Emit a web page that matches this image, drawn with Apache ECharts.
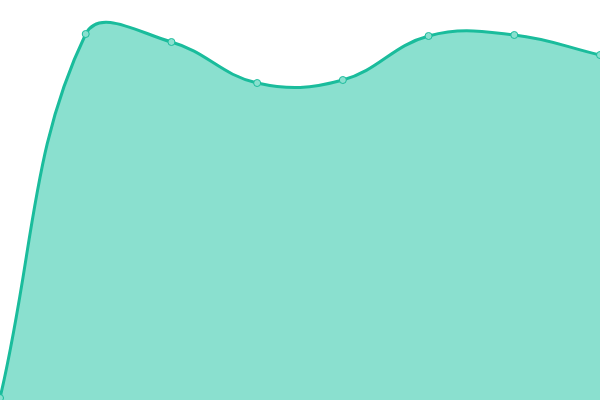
<!DOCTYPE html>
<html>
<head>
    <meta charset="utf-8">
    <title>Area</title>
    <script src="https://cdn.jsdelivr.net/npm/echarts@6/dist/echarts.min.js"></script>
    <style>
        body, html {
            margin: 0;
            height: 100%;
            background: #fff;
        }

        #main {
            width: 600px;
            height: 400px;
        }
    </style>
</head>
<body>
<div id="main"></div>
<script type="text/javascript">
    var categories = ['1', '2', '3', '4', '5', '6', '7', '8'];
    var values = [2, 366, 358, 317, 320, 364, 365, 345];

    var lineColor = '#1abc9c';
    var areaColor = '#8ae0cf';
    var tension = 0.4;

    var myChart = echarts.init(document.getElementById('main'));

    // spline control points, distance weighted; the end points lean towards their neighbour
    function controlPoints(pts) {
        var cps = [];
        for (var i = 0; i < pts.length; i++) {
            var p = pts[i];
            var prev = pts[i - 1] || p;
            var next = pts[i + 1] || p;
            var d0 = Math.sqrt(Math.pow(p[0] - prev[0], 2) + Math.pow(p[1] - prev[1], 2));
            var d1 = Math.sqrt(Math.pow(p[0] - next[0], 2) + Math.pow(p[1] - next[1], 2));
            var s0 = d0 / (d0 + d1) || 0;
            var s1 = d1 / (d0 + d1) || 0;
            var vx = next[0] - prev[0];
            var vy = next[1] - prev[1];
            cps.push({
                before: [p[0] - vx * tension * s0, p[1] - vy * tension * s0],
                after: [p[0] + vx * tension * s1, p[1] + vy * tension * s1]
            });
        }
        return cps;
    }

    function curvePath(pts) {
        var cps = controlPoints(pts);
        var d = 'M' + pts[0][0] + ' ' + pts[0][1];
        for (var i = 0; i < pts.length - 1; i++) {
            var c0 = cps[i].after, c1 = cps[i + 1].before, p = pts[i + 1];
            d += ' C' + c0[0] + ' ' + c0[1] + ' ' + c1[0] + ' ' + c1[1] + ' ' + p[0] + ' ' + p[1];
        }
        return d;
    }

    function renderCurve(params, api) {
        if (params.dataIndex !== 0) {
            return null;
        }
        var pts = [];
        for (var i = 0; i < values.length; i++) {
            pts.push(api.coord([i, values[i]]));
        }
        var base0 = api.coord([0, 0]);
        var base1 = api.coord([values.length - 1, 0]);
        var line = curvePath(pts);
        var area = line + ' L' + base1[0] + ' ' + base1[1] + ' L' + base0[0] + ' ' + base0[1] + ' Z';
        return {
            type: 'group',
            children: [
                {
                    type: 'path',
                    shape: {pathData: area},
                    style: {fill: areaColor, stroke: null}
                },
                {
                    type: 'path',
                    shape: {pathData: line},
                    style: {fill: null, stroke: lineColor, lineWidth: 3}
                }
            ]
        };
    }

    var option = {
        animation: false,
        grid: {
            left: 0,
            right: 0,
            top: 0,
            bottom: 0
        },
        xAxis: {
            type: 'category',
            show: false,
            boundaryGap: false,
            data: categories
        },
        yAxis: {
            type: 'value',
            show: false,
            min: 0,
            max: 400
        },
        series: [
            {
                type: 'custom',
                z: 2,
                renderItem: renderCurve,
                data: values.map(function (v, i) {
                    return [i, v];
                })
            },
            {
                type: 'line',
                z: 3,
                data: values,
                symbol: 'circle',
                symbolSize: 7,
                lineStyle: {
                    width: 0,
                    opacity: 0
                },
                itemStyle: {
                    color: areaColor,
                    borderColor: lineColor,
                    borderWidth: 1
                }
            }
        ]
    };

    myChart.setOption(option);
</script>
</body>
</html>
